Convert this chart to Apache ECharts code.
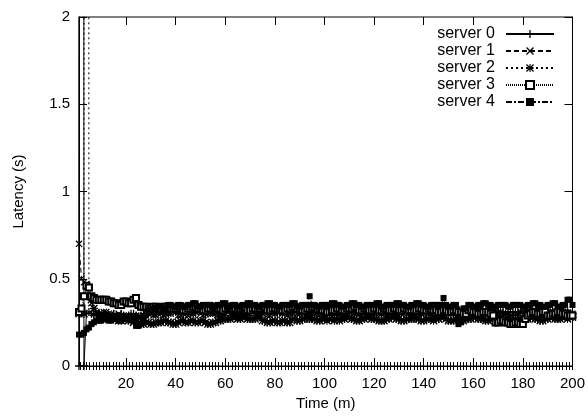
<!DOCTYPE html>
<html>
<head>
<meta charset="utf-8">
<script src="https://cdn.jsdelivr.net/npm/echarts@6/dist/echarts.min.js"></script>
<style>html,body{margin:0;padding:0;background:#fff}#c{width:588px;height:416px}</style>
</head>
<body>
<div id="c"></div>
<script>
// Time (minutes)
const times = [1,2,3,4,5,6,7,8,9,10,11,12,13,14,15,16,17,18,19,20,
  21,22,23,24,25,26,27,28,29,30,31,32,33,34,35,36,37,38,39,40,
  41,42,43,44,45,46,47,48,49,50,51,52,53,54,55,56,57,58,59,60,
  61,62,63,64,65,66,67,68,69,70,71,72,73,74,75,76,77,78,79,80,
  81,82,83,84,85,86,87,88,89,90,91,92,93,94,95,96,97,98,99,100,
  101,102,103,104,105,106,107,108,109,110,111,112,113,114,115,116,117,118,119,120,
  121,122,123,124,125,126,127,128,129,130,131,132,133,134,135,136,137,138,139,140,
  141,142,143,144,145,146,147,148,149,150,151,152,153,154,155,156,157,158,159,160,
  161,162,163,164,165,166,167,168,169,170,171,172,173,174,175,176,177,178,179,180,
  181,182,183,184,185,186,187,188,189,190,191,192,193,194,195,196,197,198,199,200];

const seriesNames = ['server 0','server 1','server 2','server 3','server 4'];

const server0 = [0,40,0,0.30,0.31,0.30,0.29,0.30,0.30,0.29,
  0.30,0.29,0.29,0.28,0.30,0.29,0.28,0.30,0.29,0.28,
  0.29,0.30,0.30,0.29,0.28,0.29,0.30,0.30,0.31,0.31,
  0.30,0.30,0.31,0.32,0.31,0.30,0.31,0.31,0.32,0.31,
  0.31,0.30,0.30,0.31,0.32,0.30,0.31,0.31,0.32,0.32,
  0.31,0.31,0.30,0.31,0.31,0.30,0.31,0.32,0.31,0.31,
  0.32,0.31,0.30,0.31,0.31,0.31,0.30,0.31,0.31,0.32,
  0.32,0.31,0.31,0.30,0.31,0.31,0.32,0.31,0.32,0.31,
  0.30,0.31,0.31,0.31,0.31,0.32,0.32,0.31,0.31,0.30,
  0.31,0.31,0.30,0.30,0.31,0.31,0.32,0.31,0.32,0.31,
  0.30,0.31,0.31,0.31,0.30,0.31,0.32,0.30,0.31,0.32,
  0.31,0.31,0.30,0.31,0.31,0.32,0.32,0.31,0.31,0.31,
  0.30,0.31,0.31,0.31,0.31,0.32,0.32,0.31,0.31,0.32,
  0.31,0.30,0.31,0.31,0.32,0.32,0.31,0.30,0.30,0.31,
  0.31,0.31,0.32,0.32,0.31,0.31,0.30,0.31,0.31,0.31,
  0.31,0.30,0.30,0.31,0.31,0.31,0.32,0.32,0.31,0.31,
  0.30,0.30,0.31,0.31,0.30,0.31,0.31,0.30,0.32,0.31,
  0.31,0.31,0.30,0.31,0.31,0.31,0.31,0.31,0.30,0.31,
  0.31,0.32,0.32,0.31,0.31,0.31,0.30,0.31,0.31,0.31,
  0.32,0.31,0.31,0.31,0.30,0.31,0.31,0.32,0.30,0.30];

const server1 = [0.70,0.50,0.48,0.47,0.40,0.36,0.33,0.31,0.30,0.30,
  0.31,0.31,0.30,0.30,0.29,0.29,0.30,0.29,0.29,0.29,
  0.28,0.28,0.29,0.29,0.28,0.28,0.29,0.30,0.30,0.30,
  0.29,0.29,0.30,0.30,0.29,0.30,0.30,0.30,0.31,0.31,
  0.29,0.29,0.30,0.30,0.29,0.30,0.30,0.31,0.31,0.30,
  0.29,0.30,0.30,0.31,0.30,0.30,0.29,0.29,0.30,0.30,
  0.31,0.30,0.30,0.30,0.29,0.29,0.30,0.31,0.30,0.30,
  0.31,0.30,0.29,0.29,0.30,0.31,0.29,0.29,0.30,0.30,
  0.31,0.31,0.30,0.30,0.29,0.30,0.30,0.31,0.30,0.30,
  0.31,0.30,0.29,0.29,0.30,0.30,0.30,0.29,0.29,0.29,
  0.30,0.30,0.31,0.30,0.30,0.30,0.29,0.29,0.30,0.31,
  0.31,0.30,0.30,0.30,0.29,0.30,0.30,0.30,0.30,0.30,
  0.31,0.30,0.30,0.30,0.29,0.29,0.30,0.30,0.29,0.29,
  0.30,0.31,0.31,0.30,0.30,0.30,0.29,0.30,0.30,0.30,
  0.31,0.30,0.30,0.29,0.29,0.29,0.30,0.30,0.30,0.31,
  0.31,0.30,0.30,0.29,0.29,0.30,0.30,0.30,0.30,0.30,
  0.31,0.31,0.29,0.30,0.30,0.30,0.29,0.29,0.30,0.30,
  0.31,0.30,0.30,0.29,0.29,0.30,0.30,0.30,0.31,0.31,
  0.29,0.30,0.30,0.30,0.30,0.30,0.31,0.30,0.30,0.29,
  0.29,0.30,0.30,0.30,0.31,0.30,0.30,0.29,0.30,0.30];

const server2 = [0.30,0.31,0.30,40,0.45,0.38,0.33,0.30,0.29,0.28,
  0.28,0.27,0.27,0.28,0.28,0.27,0.26,0.26,0.27,0.27,
  0.26,0.26,0.25,0.27,0.25,0.24,0.24,0.25,0.25,0.24,
  0.24,0.25,0.25,0.25,0.26,0.26,0.25,0.25,0.24,0.24,
  0.25,0.26,0.26,0.25,0.25,0.26,0.26,0.25,0.25,0.26,
  0.26,0.25,0.24,0.24,0.25,0.25,0.26,0.26,0.27,0.27,
  0.27,0.27,0.28,0.28,0.27,0.27,0.28,0.28,0.27,0.27,
  0.27,0.27,0.28,0.28,0.26,0.26,0.25,0.25,0.26,0.26,
  0.25,0.25,0.26,0.26,0.25,0.25,0.27,0.27,0.26,0.26,
  0.27,0.27,0.28,0.27,0.27,0.27,0.26,0.26,0.27,0.27,
  0.26,0.27,0.27,0.26,0.27,0.26,0.27,0.27,0.28,0.28,
  0.27,0.27,0.26,0.26,0.27,0.27,0.28,0.28,0.27,0.27,
  0.27,0.26,0.26,0.26,0.27,0.27,0.28,0.28,0.27,0.27,
  0.26,0.26,0.27,0.27,0.27,0.28,0.27,0.27,0.26,0.26,
  0.27,0.27,0.27,0.26,0.27,0.27,0.28,0.28,0.27,0.26,
  0.26,0.26,0.27,0.27,0.26,0.26,0.27,0.27,0.27,0.28,
  0.28,0.27,0.27,0.27,0.26,0.26,0.27,0.27,0.28,0.28,
  0.28,0.27,0.27,0.26,0.26,0.26,0.27,0.27,0.27,0.27,
  0.27,0.27,0.28,0.28,0.27,0.27,0.26,0.26,0.27,0.27,
  0.28,0.28,0.27,0.27,0.27,0.28,0.28,0.27,0.28,0.28];

const server3 = [0.31,0.33,0.40,0.46,0.45,0.40,0.39,0.38,0.38,0.38,
  0.38,0.38,0.37,0.37,0.36,0.36,0.35,0.35,0.37,0.37,
  0.36,0.36,0.38,0.39,0.35,0.34,0.34,0.34,0.33,0.33,
  0.34,0.34,0.33,0.33,0.34,0.34,0.33,0.33,0.33,0.33,
  0.34,0.34,0.32,0.32,0.33,0.33,0.34,0.34,0.33,0.33,
  0.32,0.32,0.33,0.33,0.34,0.34,0.33,0.33,0.32,0.33,
  0.34,0.34,0.33,0.33,0.33,0.33,0.34,0.34,0.32,0.32,
  0.33,0.33,0.33,0.33,0.34,0.34,0.32,0.32,0.33,0.33,
  0.33,0.33,0.32,0.32,0.33,0.33,0.34,0.34,0.33,0.33,
  0.32,0.32,0.33,0.33,0.34,0.34,0.33,0.33,0.32,0.32,
  0.31,0.31,0.32,0.32,0.33,0.33,0.32,0.32,0.33,0.33,
  0.33,0.34,0.34,0.32,0.32,0.33,0.33,0.32,0.32,0.33,
  0.33,0.32,0.32,0.33,0.33,0.32,0.32,0.33,0.33,0.32,
  0.32,0.33,0.33,0.32,0.32,0.32,0.32,0.33,0.33,0.32,
  0.32,0.33,0.33,0.32,0.32,0.31,0.31,0.32,0.32,0.31,
  0.31,0.32,0.32,0.31,0.31,0.30,0.30,0.32,0.32,0.31,
  0.31,0.30,0.30,0.31,0.31,0.31,0.30,0.29,0.25,0.25,
  0.26,0.26,0.25,0.25,0.24,0.24,0.25,0.25,0.24,0.24,
  0.27,0.29,0.30,0.31,0.31,0.30,0.30,0.31,0.31,0.29,
  0.29,0.30,0.30,0.31,0.31,0.30,0.30,0.29,0.29,0.29];

const server4 = [0.18,0.18,0.19,0.21,0.22,0.24,0.25,0.26,0.26,0.26,
  0.27,0.27,0.26,0.26,0.27,0.27,0.26,0.26,0.27,0.27,
  0.27,0.27,0.26,0.23,0.23,0.24,0.27,0.29,0.32,0.32,
  0.33,0.33,0.34,0.34,0.33,0.33,0.35,0.35,0.34,0.34,
  0.35,0.35,0.34,0.34,0.35,0.35,0.36,0.36,0.34,0.34,
  0.35,0.35,0.35,0.35,0.34,0.34,0.35,0.35,0.36,0.36,
  0.34,0.34,0.35,0.35,0.34,0.34,0.35,0.35,0.36,0.36,
  0.35,0.35,0.34,0.34,0.35,0.35,0.36,0.36,0.35,0.35,
  0.34,0.34,0.35,0.35,0.35,0.35,0.36,0.36,0.34,0.34,
  0.35,0.35,0.35,0.40,0.35,0.35,0.34,0.34,0.35,0.35,
  0.35,0.35,0.36,0.36,0.35,0.35,0.34,0.34,0.35,0.35,
  0.36,0.36,0.35,0.35,0.34,0.34,0.35,0.35,0.35,0.35,
  0.36,0.36,0.34,0.34,0.35,0.35,0.35,0.35,0.36,0.36,
  0.35,0.35,0.34,0.34,0.35,0.35,0.36,0.36,0.35,0.35,
  0.34,0.34,0.35,0.35,0.35,0.35,0.35,0.39,0.35,0.34,
  0.34,0.35,0.35,0.24,0.25,0.33,0.33,0.35,0.35,0.34,
  0.34,0.35,0.35,0.36,0.36,0.35,0.35,0.34,0.34,0.35,
  0.35,0.35,0.35,0.34,0.34,0.35,0.35,0.35,0.35,0.34,
  0.34,0.35,0.35,0.36,0.36,0.35,0.35,0.34,0.34,0.35,
  0.35,0.36,0.36,0.34,0.34,0.35,0.35,0.38,0.38,0.35];

const xMajorTicks = [20,40,60,80,100,120,140,160,180,200];
const yTicks = [0,0.5,1,1.5,2];

const values = [server0, server1, server2, server3, server4];

// tick decoration (minor ticks along the bottom edge)
const minorTicks = [];
for (let v = 0; v <= 200.001; v += 20/15) { if (v >= 1 && v <= 200) minorTicks.push(+v.toFixed(3)); }

const FONT = '"Liberation Sans", Arial, sans-serif';
const symbols = [
  'path://M4.2,0H5.8V10H4.2Z M0,4.2H10V5.8H0Z',
  'path://M0,1.2L1.2,0L10,8.8L8.8,10Z M8.8,0L10,1.2L1.2,10L0,8.8Z',
  'path://M4.3,0H5.7V10H4.3Z M0,4.3H10V5.7H0Z M0,1.1L1.1,0L10,8.9L8.9,10Z M8.9,0L10,1.1L1.1,10L0,8.9Z',
  'emptyRect',
  'rect'
];
const symbolSizes = [8, 7, 8, 6, 6];
const dashes = ['solid', [5,3], [2,3], [1,1], [6,2,2,2]];

const chart = echarts.init(document.getElementById('c'), null, {renderer: 'canvas'});

const baseX = {type:'value', min:1, max:200, gridIndex:0, splitLine:{show:false},
  axisLine:{show:false}, axisLabel:{show:false}};

chart.setOption({
  animation: false,
  backgroundColor: '#fff',
  textStyle: {fontFamily: FONT, color: '#000'},
  grid: {left: 79, right: 14, top: 17, bottom: 50, show: true, borderColor: '#000', borderWidth: 1},
  legend: {
    orient: 'vertical', right: 33, top: 26, padding: 0, align: 'right',
    itemWidth: 48, itemHeight: 10, itemGap: 1,
    textStyle: {fontFamily: FONT, fontSize: 16, lineHeight: 15, color: '#000', padding: [0, 6, 0, 0]},
    data: seriesNames
  },
  xAxis: [
    Object.assign({}, baseX, {
      position: 'bottom',
      name: 'Time (m)', nameLocation: 'middle', nameGap: 30,
      nameTextStyle: {fontFamily: FONT, fontSize: 15, color: '#000'},
      axisLine: {show: true, lineStyle: {color: '#000', width: 1}},
      axisTick: {show: true, inside: true, length: 8, lineStyle: {color: '#000'}, customValues: xMajorTicks},
      axisLabel: {show: true, customValues: xMajorTicks, fontFamily: FONT, fontSize: 15, color: '#000', margin: 10}
    }),
    Object.assign({}, baseX, {position: 'bottom',
      axisTick: {show: true, inside: true, length: 4, lineStyle: {color: '#000'}, customValues: minorTicks}}),
    Object.assign({}, baseX, {position: 'bottom',
      axisTick: {show: true, inside: false, length: 4, lineStyle: {color: '#000'}, customValues: minorTicks.concat(xMajorTicks)}}),
    Object.assign({}, baseX, {position: 'top',
      axisTick: {show: true, inside: true, length: 8, lineStyle: {color: '#000'}, customValues: xMajorTicks}})
  ],
  yAxis: [
    {type: 'value', min: 0, max: 2, interval: 0.5, position: 'left', splitLine: {show: false},
      name: 'Latency (s)', nameLocation: 'middle', nameGap: 53, nameRotate: 90,
      nameTextStyle: {fontFamily: FONT, fontSize: 15, color: '#000'},
      axisLine: {show: true, lineStyle: {color: '#000'}},
      axisTick: {show: true, inside: true, length: 8, lineStyle: {color: '#000'}},
      axisLabel: {fontFamily: FONT, fontSize: 15, color: '#000', margin: 9}
    },
    {type: 'value', min: 0, max: 2, interval: 0.5, position: 'right', splitLine: {show: false},
      axisLine: {show: true, lineStyle: {color: '#000'}},
      axisTick: {show: true, inside: true, length: 8, lineStyle: {color: '#000'}},
      axisLabel: {show: false}
    }
  ],
  series: seriesNames.map((name, k) => ({
    name: name,
    type: 'line',
    xAxisIndex: 0, yAxisIndex: 0,
    data: times.map((t, i) => [t, values[k][i]]),
    symbol: symbols[k],
    symbolSize: symbolSizes[k],
    showSymbol: true, showAllSymbol: true,
    clip: true,
    lineStyle: {color: '#000', width: 1, type: dashes[k]},
    itemStyle: {color: '#000', borderColor: '#000', borderWidth: k === 3 ? 1 : 0},
    emphasis: {disabled: true}
  }))
});
</script>
</body>
</html>
